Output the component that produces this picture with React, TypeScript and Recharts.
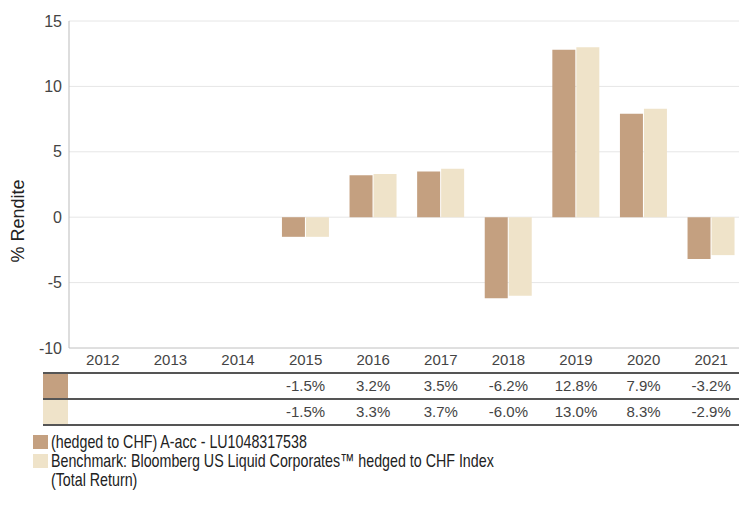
import { BarChart, Bar, XAxis, YAxis, CartesianGrid, Label } from "recharts";

const YEARS = ["2012", "2013", "2014", "2015", "2016", "2017", "2018", "2019", "2020", "2021"];
const FUND = [null, null, null, -1.5, 3.2, 3.5, -6.2, 12.8, 7.9, -3.2];
const BENCH = [null, null, null, -1.5, 3.3, 3.7, -6.0, 13.0, 8.3, -2.9];
const Y_TICKS = [-10, -5, 0, 5, 10, 15];

const FUND_NAME = "(hedged to CHF) A-acc - LU1048317538";
const BENCH_NAME = "Benchmark: Bloomberg US Liquid Corporates™ hedged to CHF Index (Total Return)";

const FUND_COLOR = "#c4a080";
const BENCH_COLOR = "#efe3c9";
const TEXT = "#444";
const FONT = "'Liberation Sans', Arial, sans-serif";

const data = YEARS.map((year, i) => ({ year, fund: FUND[i], bench: BENCH[i] }));

const fmt = (v: number | null) => (v == null ? "" : `${v.toFixed(1)}%`);

function YearTick(props: any) {
  const { x, y, payload, index } = props;
  return (
    <g fontFamily={FONT} fontSize={15} fill={TEXT}>
      <text x={x} y={y + 12} textAnchor="middle" dy="0.355em" fill={TEXT}>{payload.value}</text>
      <text x={x} y={y + 38} textAnchor="middle" dy="0.355em" fill={TEXT}>{fmt(FUND[index])}</text>
      <text x={x} y={y + 64} textAnchor="middle" dy="0.355em" fill={TEXT}>{fmt(BENCH[index])}</text>
    </g>
  );
}

function YLabel(props: any) {
  return (
    <text
      x={10}
      y={213}
      transform="rotate(-90, 10, 213)"
      textAnchor="middle"
      dy="0.355em"
      fontFamily={FONT}
      fontSize={18}
      fill="#222"
    >
      % Rendite
    </text>
  );
}

export default function App() {
  const line = (top: number) => (
    <div style={{ position: "absolute", left: 35, width: 704, top, height: 2, background: "#555" }} />
  );
  const swatch = (top: number, color: string) => (
    <div style={{ position: "absolute", left: 35, width: 25, top, height: 24, background: color }} />
  );

  return (
    <div style={{ position: "relative", width: 739, height: 497 }}>
      <BarChart
        width={739}
        height={420}
        data={data}
        margin={{ top: 13, right: 2, left: 0, bottom: 0 }}
        barCategoryGap="15%"
        barGap={1}
      >
        <CartesianGrid vertical={false} stroke="#e6e6e6" />
        <XAxis
          dataKey="year"
          height={80}
          interval={0}
          tickLine={false}
          tickSize={0}
          tickMargin={0}
          axisLine={{ stroke: "#cccccc" }}
          tick={<YearTick />}
        />
        <YAxis
          width={61}
          domain={[-10, 15]}
          ticks={Y_TICKS}
          tickLine={false}
          tickSize={0}
          tickMargin={7}
          axisLine={{ stroke: "#bbbbbb" }}
          tick={{ fill: TEXT, fontSize: 16, fontFamily: FONT }}
        >
          <Label content={<YLabel />} />
        </YAxis>
        <Bar dataKey="fund" fill={FUND_COLOR} isAnimationActive={false} />
        <Bar dataKey="bench" fill={BENCH_COLOR} isAnimationActive={false} />
      </BarChart>

      {/* table rules and row swatches */}
      {line(364)}
      {line(390)}
      {line(416)}
      {swatch(366, FUND_COLOR)}
      {swatch(392, BENCH_COLOR)}

      {/* legend */}
      <div style={{ position: "absolute", left: 25, top: 424, width: 700, fontFamily: FONT, fontSize: 19, color: "#222", lineHeight: "19px" }}>
        <div style={{ display: "flex", alignItems: "flex-start" }}>
          <span style={{ width: 15, height: 14, background: FUND_COLOR, marginTop: 3, marginRight: 3, flexShrink: 0 }} />
          <span style={{ display: "inline-block", transform: "scaleX(0.75)", transformOrigin: "left top", whiteSpace: "nowrap" }}>{FUND_NAME}</span>
        </div>
        <div style={{ display: "flex", alignItems: "flex-start" }}>
          <span style={{ width: 15, height: 14, background: BENCH_COLOR, marginTop: 3, marginRight: 3, flexShrink: 0 }} />
          <span style={{ display: "inline-block", width: 600, transform: "scaleX(0.75)", transformOrigin: "left top" }}>{BENCH_NAME}</span>
        </div>
      </div>
    </div>
  );
}
